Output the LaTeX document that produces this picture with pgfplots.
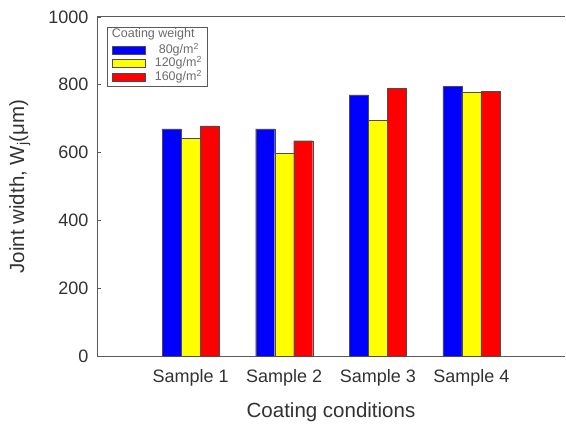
\documentclass[border=0pt]{standalone}
\usepackage{pgfplots}
\pgfplotsset{compat=1.18}
\usepackage{fontspec}
\setmainfont{Liberation Sans}
\definecolor{axgray}{RGB}{90,90,90}
\definecolor{txtgray}{RGB}{50,50,50}
\begin{document}
\begin{tikzpicture}
\begin{axis}[
  scale only axis,
  width=468pt, height=339pt,
  xmin=0, xmax=5, ymin=0, ymax=1000,
  axis x line=box, axis y line=left,
  axis line style={-, draw=axgray, line width=1pt},
  ybar=0pt, bar width=19pt,
  xtick={1,2,3,4},
  xticklabels={Sample 1, Sample 2, Sample 3, Sample 4},
  x tick style={draw=none},
  ytick={0,200,400,600,800,1000},
  tick align=inside, ytick pos=left,
  y tick style={draw=axgray, line width=0.8pt},
  major tick length=4pt,
  /pgf/number format/assume math mode=true,
  /pgf/number format/1000 sep={},
  ticklabel style={font=\fontsize{18}{20}\selectfont, text=txtgray},
  xticklabel style={yshift=-10pt},
  yticklabel style={xshift=-5pt},
  label style={font=\fontsize{20.5}{23}\selectfont, text=txtgray},
  xlabel={Coating conditions},
  ylabel={Joint width, W\textsubscript{j}(μm)},
  xlabel style={at={(axis description cs:0.5,-0.165)}, anchor=center},
  ylabel style={at={(axis description cs:-0.165,0.5)}, anchor=center},
  legend image code/.code={\draw[#1] (0pt,-4pt) rectangle (33pt,4pt);},
  legend cell align=left,
  legend style={at={(0.021,0.971)}, anchor=north west,
    draw=axgray, line width=1.2pt, inner xsep=5pt, inner ysep=2.5pt,
    font=\fontsize{12.5}{13}\selectfont, text=gray!85!black,
    row sep=0pt,
    /tikz/every odd column/.style={column sep=8pt},
    nodes={inner sep=1pt, text height=9pt, text depth=2.5pt}},
]
\addlegendimage{empty legend}
\addlegendentry{\makebox[0pt][l]{\hspace*{-43pt}\raisebox{2pt}{Coating weight}}}
\addplot[fill={rgb,255:red,0;green,0;blue,255}, draw=black!70, line width=0.4pt] coordinates {(1,670) (2,670) (3,770) (4,795)};
\addlegendentry{\hspace*{4pt}80g/m\textsuperscript{2}}
\addplot[fill={rgb,255:red,255;green,255;blue,0}, draw=black!70, line width=0.4pt] coordinates {(1,643) (2,597) (3,696) (4,779)};
\addlegendentry{120g/m\textsuperscript{2}}
\addplot[fill={rgb,255:red,255;green,0;blue,0}, draw=black!70, line width=0.4pt] coordinates {(1,679) (2,635) (3,789) (4,780)};
\addlegendentry{160g/m\textsuperscript{2}}
\end{axis}
\path ([xshift=-97pt,yshift=-65pt]current axis.south west) rectangle ([xshift=1pt,yshift=17pt]current axis.north east);
\end{tikzpicture}
\end{document}
